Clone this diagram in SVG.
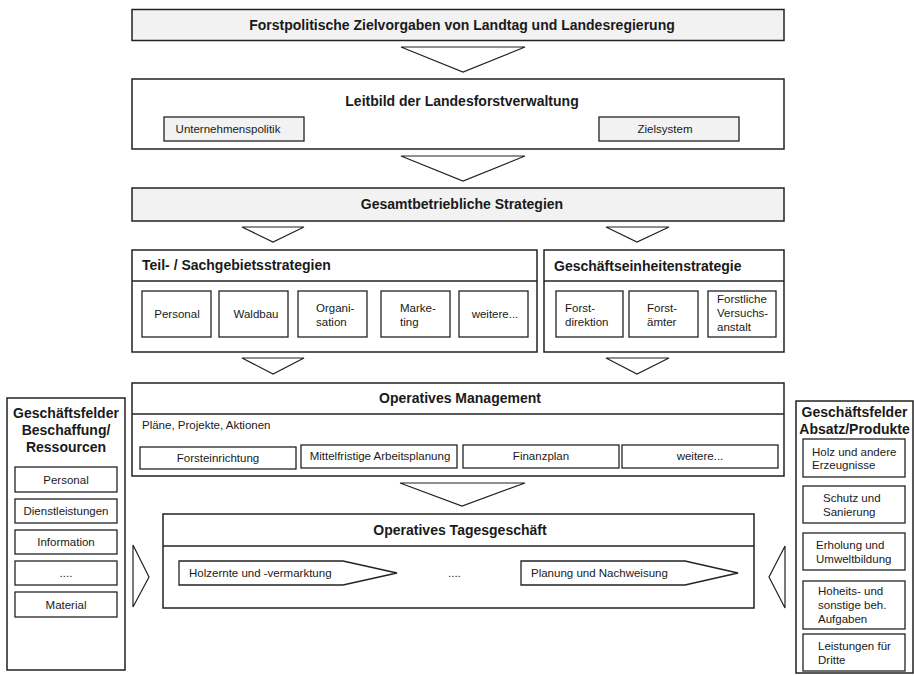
<svg xmlns="http://www.w3.org/2000/svg" width="914" height="675" viewBox="0 0 914 675">
  <style>
    .box { fill: #ffffff; stroke: #222222; stroke-width: 1.5; }
    .gray { fill: #f2f2f2; }
    .sub { fill: #ffffff; stroke: #222222; stroke-width: 1.3; }
    .sub.gray { fill: #f2f2f2; }
    .tri { fill: #ffffff; stroke: #222222; stroke-width: 1.2; stroke-linejoin: miter; }
    .div { stroke: #222222; stroke-width: 1.5; }
    text { font-family: "Liberation Sans", Arial, Helvetica, sans-serif; font-size: 11.5px; fill: #1a1a1a; }
    .h { font-size: 14px; font-weight: bold; }
    .c { text-anchor: middle; }
  </style>
  <rect width="914" height="675" fill="#ffffff"/>

  <!-- flow triangles between levels -->
  <g id="connectors">
    <polygon class="tri" points="401,47 525,47 463,72"/>
    <polygon class="tri" points="401,156 525,156 463,181"/>
    <polygon class="tri" points="242,227 304,227 273,242"/>
    <polygon class="tri" points="606,227 669,227 637,242"/>
    <polygon class="tri" points="242,358 304,358 273,374"/>
    <polygon class="tri" points="606,358 669,358 637,374"/>
    <polygon class="tri" points="400,483 525,483 462,506"/>
    <polygon class="tri" points="133,545 149,577 133,607"/>
    <polygon class="tri" points="785,546 769,577 785,608"/>
  </g>

  <g id="zielvorgaben">
    <rect class="box gray" x="132" y="9.5" width="652" height="31"/>
    <text class="h c" x="462" y="30">Forstpolitische Zielvorgaben von Landtag und Landesregierung</text>
  </g>

  <g id="leitbild">
    <rect class="box" x="132" y="79" width="652" height="70"/>
    <text class="h c" x="462" y="106">Leitbild der Landesforstverwaltung</text>
    <rect class="sub gray" x="164" y="117" width="140" height="24"/>
    <text class="c" x="228" y="133">Unternehmenspolitik</text>
    <rect class="sub gray" x="599" y="117" width="140" height="24"/>
    <text class="c" x="665" y="133">Zielsystem</text>
  </g>

  <g id="gesamtbetrieblich">
    <rect class="box gray" x="132" y="188" width="652" height="33"/>
    <text class="h c" x="462" y="209">Gesamtbetriebliche Strategien</text>
  </g>

  <g id="teilstrategien">
    <rect class="box" x="132" y="250" width="405" height="102"/>
    <line class="div" x1="132" y1="281" x2="537" y2="281"/>
    <text class="h" x="142" y="270">Teil- / Sachgebietsstrategien</text>
    <rect class="sub" x="142" y="291" width="69" height="46"/>
    <text class="c" x="177" y="318">Personal</text>
    <rect class="sub" x="219" y="291" width="69" height="46"/>
    <text class="c" x="256" y="318">Waldbau</text>
    <rect class="sub" x="298" y="291" width="69" height="46"/>
    <text x="316" y="312">Organi-</text>
    <text x="316" y="326">sation</text>
    <rect class="sub" x="381" y="291" width="69" height="46"/>
    <text x="400" y="312">Marke-</text>
    <text x="400" y="326">ting</text>
    <rect class="sub" x="459" y="291" width="69" height="46"/>
    <text class="c" x="495" y="318">weitere...</text>
  </g>

  <g id="geschaeftseinheiten">
    <rect class="box" x="544" y="250" width="240" height="102"/>
    <line class="div" x1="544" y1="281" x2="784" y2="281"/>
    <text class="h" x="554" y="271">Geschäftseinheitenstrategie</text>
    <rect class="sub" x="556" y="291" width="67" height="46"/>
    <text x="565" y="312">Forst-</text>
    <text x="565" y="326">direktion</text>
    <rect class="sub" x="629" y="291" width="69" height="46"/>
    <text x="647" y="312">Forst-</text>
    <text x="647" y="326">ämter</text>
    <rect class="sub" x="708" y="291" width="68" height="46"/>
    <text x="717" y="303">Forstliche</text>
    <text x="717" y="317">Versuchs-</text>
    <text x="717" y="331">anstalt</text>
  </g>

  <g id="operatives-management">
    <rect class="box" x="132" y="383" width="652" height="93"/>
    <line class="div" x1="132" y1="414" x2="784" y2="414"/>
    <text class="h c" x="460" y="403">Operatives Management</text>
    <text x="142" y="429">Pläne, Projekte, Aktionen</text>
    <rect class="sub" x="140" y="447" width="156" height="22"/>
    <text class="c" x="218" y="462">Forsteinrichtung</text>
    <rect class="sub" x="301" y="445" width="156" height="23"/>
    <text class="c" x="380" y="460">Mittelfristige Arbeitsplanung</text>
    <rect class="sub" x="463" y="445" width="156" height="23"/>
    <text class="c" x="541" y="460">Finanzplan</text>
    <rect class="sub" x="622" y="445" width="156" height="23"/>
    <text class="c" x="700" y="460">weitere...</text>
  </g>

  <g id="tagesgeschaeft">
    <rect class="box" x="163" y="514" width="591" height="94"/>
    <line class="div" x1="163" y1="546" x2="754" y2="546"/>
    <text class="h c" x="460" y="535">Operatives Tagesgeschäft</text>
    <polygon class="sub" points="179,561 343,561 397,573 343,585 179,585"/>
    <text x="189" y="577">Holzernte und -vermarktung</text>
    <text x="448" y="577">....</text>
    <polygon class="sub" points="521,561 685,561 738,573 685,585 521,585"/>
    <text x="531" y="577">Planung und Nachweisung</text>
  </g>

  <g id="beschaffung">
    <rect class="box" x="7" y="398" width="118" height="272"/>
    <text class="h c" x="66" y="418">Geschäftsfelder</text>
    <text class="h c" x="66" y="435">Beschaffung/</text>
    <text class="h c" x="66" y="452">Ressourcen</text>
    <rect class="sub" x="15" y="467" width="102" height="25"/>
    <text class="c" x="66" y="484">Personal</text>
    <rect class="sub" x="15" y="499" width="102" height="24"/>
    <text class="c" x="66" y="515">Dienstleistungen</text>
    <rect class="sub" x="15" y="530" width="102" height="24"/>
    <text class="c" x="66" y="546">Information</text>
    <rect class="sub" x="15" y="561" width="102" height="24"/>
    <text class="c" x="66" y="577">....</text>
    <rect class="sub" x="15" y="592" width="102" height="25"/>
    <text class="c" x="66" y="609">Material</text>
  </g>

  <g id="absatz">
    <rect class="box" x="796" y="401" width="117" height="272"/>
    <text class="h c" x="854.5" y="417">Geschäftsfelder</text>
    <text class="h c" x="854.5" y="434">Absatz/Produkte</text>
    <rect class="sub" x="803" y="439" width="102" height="38"/>
    <text x="812" y="456">Holz und andere</text>
    <text x="812" y="469">Erzeugnisse</text>
    <rect class="sub" x="803" y="486" width="102" height="37"/>
    <text x="823" y="502">Schutz und</text>
    <text x="823" y="516">Sanierung</text>
    <rect class="sub" x="803" y="533" width="102" height="37"/>
    <text x="816" y="549">Erholung und</text>
    <text x="816" y="563">Umweltbildung</text>
    <rect class="sub" x="803" y="581" width="102" height="48"/>
    <text x="818" y="595">Hoheits- und</text>
    <text x="818" y="609">sonstige beh.</text>
    <text x="818" y="623">Aufgaben</text>
    <rect class="sub" x="803" y="634" width="102" height="37"/>
    <text x="818" y="650">Leistungen für</text>
    <text x="818" y="664">Dritte</text>
  </g>
</svg>
